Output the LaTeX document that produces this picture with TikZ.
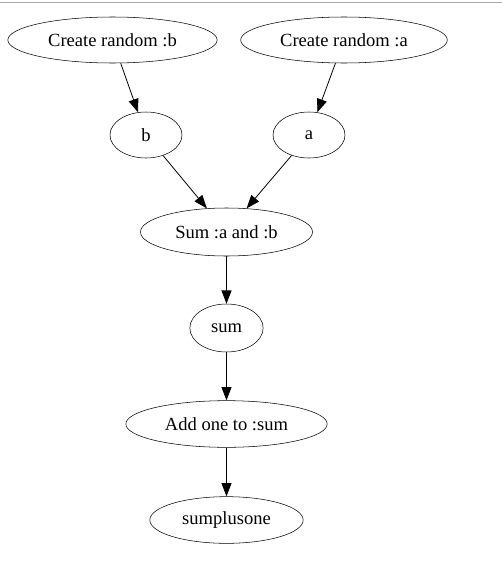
\documentclass[tikz,border=0pt]{standalone}
\usepackage{fontspec}
\setmainfont{Liberation Serif}
\usetikzlibrary{shapes.geometric,arrows.meta}

\begin{document}
\begin{tikzpicture}[x=0.75pt,y=0.75pt,yscale=-1,xscale=1,
  task/.style={draw,ellipse,inner sep=0pt,minimum height=34.5pt,font=\fontsize{13.9}{16}\selectfont},
  flow/.style={-{Triangle[length=10pt,width=7.5pt]},line width=0.6pt}]
\useasboundingbox (0,0) rectangle (502,578);

%Top border line
\draw [color={rgb, 255:red, 170; green, 170; blue, 170 }] (0,2) -- (502,2) ;

% Nodes
\node [task,minimum width=157pt] (mkb) at (112.5,40) {Create random :b};
\node [task,minimum width=155pt] (mka) at (344,40) {Create random :a};
\node [task,minimum width=54pt] (b) at (146,135) {b};
\node [task,minimum width=54pt] (a) at (309,135) {a};
\node [task,minimum width=129pt,minimum height=36pt] (add) at (226.5,232) {Sum :a and :b};
\node [task,minimum width=55pt,minimum height=36pt] (sum) at (226.5,328) {sum};
\node [task,minimum width=151pt,minimum height=35pt] (inc) at (226.5,424) {Add one to :sum};
\node [task,minimum width=115pt,minimum height=35pt] (out) at (226.5,520) {sumplusone};

% Edges
\draw [flow] (mkb) -- (b) ;
\draw [flow] (mka) -- (a) ;
\draw [flow] (b) -- (add) ;
\draw [flow] (a) -- (add) ;
\draw [flow] (add) -- (sum) ;
\draw [flow] (sum) -- (inc) ;
\draw [flow] (inc) -- (out) ;

\end{tikzpicture}
\end{document}
